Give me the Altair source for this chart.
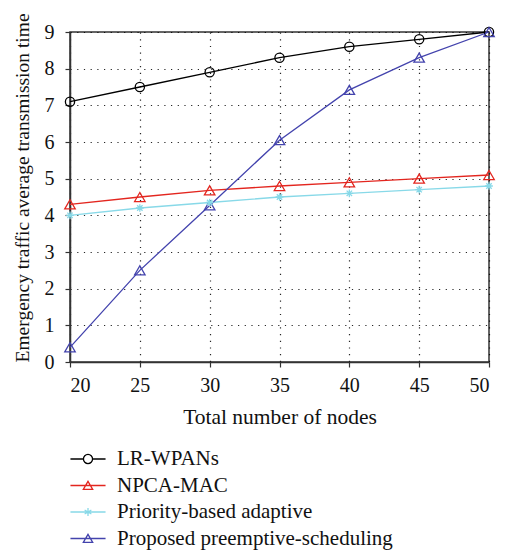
import altair as alt
import pandas as pd

nodes = [20, 25, 30, 35, 40, 45, 50]
series_names = ["LR-WPANs", "NPCA-MAC", "Priority-based adaptive", "Proposed preemptive-scheduling"]
lr_wpans = [7.1, 7.5, 7.9, 8.3, 8.6, 8.8, 9.0]
npca_mac = [4.3, 4.5, 4.68, 4.8, 4.9, 5.0, 5.1]
priority = [4.0, 4.2, 4.35, 4.5, 4.6, 4.7, 4.8]
proposed = [0.4, 2.5, 4.27, 6.05, 7.42, 8.3, 9.0]
x_ticks = [20, 25, 30, 35, 40, 45, 50]
y_ticks = [0, 1, 2, 3, 4, 5, 6, 7, 8, 9]

colors = ["#000000", "#e3261f", "#88d9e8", "#4343ad"]

rows = []
for name, vals in zip(series_names, [lr_wpans, npca_mac, priority, proposed]):
    for n, v in zip(nodes, vals):
        rows.append({"nodes": n, "time": v, "series": name})
df = pd.DataFrame(rows)

FONT = "Liberation Serif"

asterisk = "M-1,0L1,0M0,-1L0,1M-0.7,-0.7L0.7,0.7M-0.7,0.7L0.7,-0.7"
leg_paths = [
    "M-1.35,0L-0.35,0M0.35,0L1.35,0M-0.35,0A0.35,0.35 0 1,1 0.35,0A0.35,0.35 0 1,1 -0.35,0",
    "M-1.35,0L1.35,0M0,-0.32L0.36,0.3L-0.36,0.3Z",
    "M-1.35,0L1.35,0M0,-0.3L0,0.3M-0.26,-0.15L0.26,0.15M-0.26,0.15L0.26,-0.15",
    "M-1.35,0L1.35,0M0,-0.32L0.36,0.3L-0.36,0.3Z",
]

legend_cfg = alt.Legend(title=None, orient="none", legendX=4, legendY=413,
                        direction="vertical", labelFont=FONT, labelFontSize=21,
                        labelColor="#111", labelOffset=15, labelLimit=0,
                        symbolSize=676, symbolStrokeWidth=1.3, rowPadding=2.5)

xenc = alt.X("nodes:Q", scale=alt.Scale(domain=[20, 50], nice=False),
             axis=alt.Axis(values=x_ticks, title="Total number of nodes"))
yenc = alt.Y("time:Q", scale=alt.Scale(domain=[0, 9], nice=False),
             axis=alt.Axis(values=y_ticks, title="Emergency traffic average transmission time"))
cenc = alt.Color("series:N", scale=alt.Scale(domain=series_names, range=colors), legend=legend_cfg)

base = alt.Chart(df)

lines = base.mark_line(strokeWidth=1.3).encode(x=xenc, y=yenc, color=cenc, detail="series:N")

def pts(names, shape, size):
    return base.transform_filter(
        alt.FieldOneOfPredicate(field="series", oneOf=names)
    ).mark_point(shape=shape, size=size, filled=False, opacity=1, strokeWidth=1.3).encode(
        x=xenc, y=yenc, color=cenc)

p_circle = pts(["LR-WPANs"], "circle", 85)
p_tri = pts(["NPCA-MAC", "Proposed preemptive-scheduling"], "triangle-up", 110)
p_ast = pts(["Priority-based adaptive"], asterisk, 60)

legend_layer = base.transform_filter("false").mark_point(filled=False, opacity=1).encode(
    x=xenc, y=yenc,
    color=cenc,
    shape=alt.Shape("series:N", scale=alt.Scale(domain=series_names, range=leg_paths),
                    legend=legend_cfg),
)

chart = alt.layer(lines, p_circle, p_tri, p_ast, legend_layer).properties(
    width=419, height=330,
    autosize=alt.AutoSizeParams(type="none"),
    padding={"left": 62, "top": 24, "right": 13, "bottom": 192},
).configure_view(
    stroke="#333", strokeWidth=1.5
).configure_axis(
    labelFont=FONT, titleFont=FONT, labelFontSize=20, titleFontSize=20,
    labelColor="#111", titleColor="#111", titleFontWeight="normal",
    domainColor="#333", domainWidth=1.5, tickColor="#333", tickSize=5, tickWidth=1.2,
    grid=True, gridColor="#000", gridDash=[1.2, 5.5], gridWidth=1.2, gridOpacity=0.85,
).configure_axisX(
    labelPadding=8, titlePadding=11, titleFontSize=21.5
).configure_axisY(
    labelPadding=11, titlePadding=12, titleFontSize=19.5, titleAnchor="start"
)

chart.save("out.html", embed_options={"renderer": "svg", "actions": False})
